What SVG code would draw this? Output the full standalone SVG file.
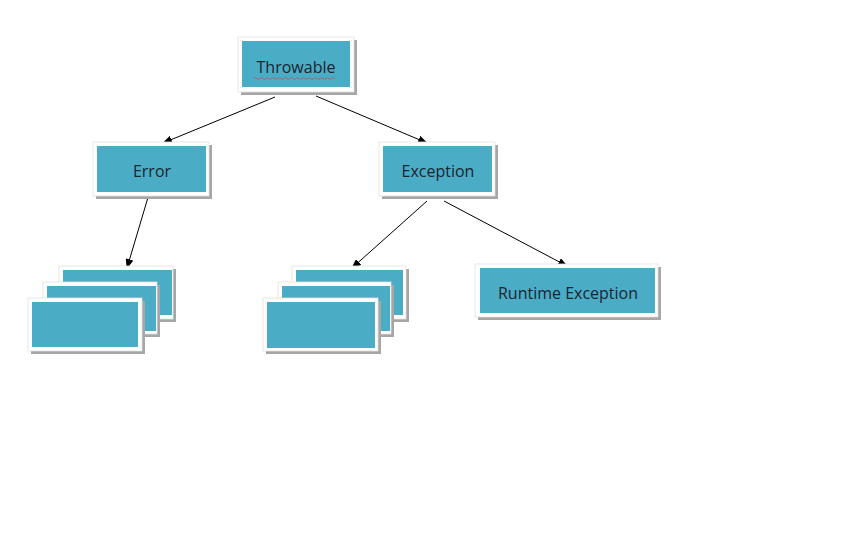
<svg xmlns="http://www.w3.org/2000/svg" width="864" height="540" viewBox="0 0 864 540">
<style>
.sh{fill:#a6a6a6;}
.fr{fill:#ffffff;stroke:#e2e2e2;stroke-width:0.8;}
.in{fill:#4bacc6;}
.t{font-family:"Open Sans","Liberation Sans",sans-serif;font-size:16px;fill:#1c2430;text-anchor:middle;}
.c{stroke:#000;stroke-width:1;fill:none;marker-end:url(#ah);}
</style>
<defs>
<marker id="ah" markerWidth="10" markerHeight="8" refX="9" refY="4" orient="auto" markerUnits="userSpaceOnUse">
<path d="M0,0 L10,4 L0,8 z" fill="#000"/>
</marker>
</defs>
<rect width="864" height="540" fill="#ffffff"/>
<g id="connectors">
<line class="c" x1="275" y1="97" x2="163" y2="143"/>
<line class="c" x1="316" y1="96" x2="427" y2="143"/>
<line class="c" x1="149" y1="194" x2="127" y2="268"/>
<line class="c" x1="427" y1="201" x2="352" y2="268"/>
<line class="c" x1="444" y1="201" x2="567" y2="266"/>
</g>
<g id="throwable">
<rect class="sh" x="241" y="40" width="116" height="55"/>
<rect class="fr" x="238" y="37" width="116" height="55"/>
<rect class="in" x="242" y="41" width="108" height="46"/>
<text class="t" x="296" y="73">Throwable</text>
<path d="M254,78.5 q1.5,-1.5 3,0 t3,0 t3,0 t3,0 t3,0 t3,0 t3,0 t3,0 t3,0 t3,0 t3,0 t3,0 t3,0 t3,0 t3,0 t3,0 t3,0 t3,0 t3,0 t3,0 t3,0 t3,0 t3,0 t3,0 t3,0 t3,0 t3,0" fill="none" stroke="#c0504d" stroke-width="0.7"/>
</g>
<g id="error">
<rect class="sh" x="96" y="145" width="116" height="54"/>
<rect class="fr" x="93" y="142" width="116" height="54"/>
<rect class="in" x="97" y="146" width="109" height="46"/>
<text class="t" x="152" y="177">Error</text>
</g>
<g id="exception">
<rect class="sh" x="382" y="145" width="116" height="54"/>
<rect class="fr" x="379" y="142" width="116" height="54"/>
<rect class="in" x="383" y="146" width="109" height="46"/>
<text class="t" x="438" y="177">Exception</text>
</g>
<g id="runtime-exception">
<rect class="sh" x="478" y="267" width="183" height="53"/>
<rect class="fr" x="475" y="264" width="183" height="53"/>
<rect class="in" x="480" y="268" width="175" height="45"/>
<text class="t" x="568" y="299">Runtime Exception</text>
</g>
<g id="error-subclasses">
<rect class="sh" x="62" y="269" width="114" height="53"/>
<rect class="fr" x="59" y="266" width="114" height="53"/>
<rect class="in" x="63" y="270" width="109" height="45"/>
<rect class="sh" x="46" y="285" width="114" height="52"/>
<rect class="fr" x="43" y="282" width="114" height="52"/>
<rect class="in" x="47" y="286" width="109" height="45"/>
<rect class="sh" x="31" y="301" width="114" height="53"/>
<rect class="fr" x="28" y="298" width="114" height="53"/>
<rect class="in" x="32" y="302" width="106" height="45"/>
</g>
<g id="exception-subclasses">
<rect class="sh" x="295" y="269" width="114" height="53"/>
<rect class="fr" x="292" y="266" width="114" height="53"/>
<rect class="in" x="296" y="270" width="107" height="45"/>
<rect class="sh" x="281" y="285" width="113" height="52"/>
<rect class="fr" x="278" y="282" width="113" height="52"/>
<rect class="in" x="282" y="286" width="108" height="45"/>
<rect class="sh" x="266" y="301" width="115" height="53"/>
<rect class="fr" x="263" y="298" width="115" height="53"/>
<rect class="in" x="267" y="302" width="108" height="46"/>
</g>
</svg>
